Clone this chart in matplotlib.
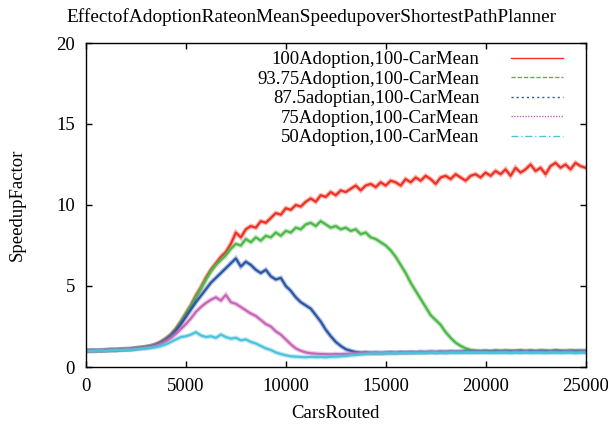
import numpy as np
import matplotlib
matplotlib.use('Agg')
import matplotlib.pyplot as plt
from matplotlib.lines import Line2D

plt.rcParams['font.family'] = 'Liberation Serif'
plt.rcParams['font.size'] = 13.5

# x grid: cars routed, one reading every 250 cars
cars = np.arange(0, 25001, 250)

# speedup (10 values per 2500 cars)
red_100 = [
    1.00, 1.02, 0.99, 1.04, 1.03, 1.07, 1.05, 1.09, 1.11, 1.10,
    1.17, 1.19, 1.24, 1.30, 1.38, 1.55, 1.75, 2.00, 2.35, 2.80,
    3.30, 3.80, 4.40, 4.90, 5.50, 6.00, 6.40, 6.80, 7.10, 7.60,
    8.30, 8.00, 8.50, 8.70, 8.60, 9.00, 8.90, 9.20, 9.50, 9.40,
    9.80, 9.70, 10.0, 9.90, 10.2, 10.4, 10.2, 10.6, 10.5, 10.8,
    10.6, 10.9, 10.8, 11.0, 11.2, 10.9, 11.2, 11.3, 11.1, 11.4,
    11.2, 11.5, 11.4, 11.2, 11.6, 11.4, 11.7, 11.5, 11.8, 11.6,
    11.3, 11.7, 11.8, 11.6, 11.9, 11.7, 11.5, 11.8, 11.9, 11.7,
    12.0, 11.8, 12.1, 11.9, 12.2, 11.8, 12.3, 12.0, 12.2, 12.5,
    12.1, 12.3, 11.9, 12.4, 12.6, 12.3, 12.5, 12.2, 12.6, 12.4,
    12.3,
]
green_9375 = [
    1.01, 0.99, 1.03, 1.02, 1.05, 1.04, 1.08, 1.07, 1.10, 1.12,
    1.15, 1.20, 1.23, 1.29, 1.40, 1.52, 1.72, 1.98, 2.30, 2.75,
    3.25, 3.75, 4.30, 4.85, 5.40, 5.90, 6.30, 6.60, 6.90, 7.30,
    7.60, 7.50, 7.90, 7.70, 8.00, 7.80, 8.10, 8.00, 8.30, 8.10,
    8.40, 8.30, 8.60, 8.50, 8.80, 8.90, 8.70, 9.00, 8.80, 8.60,
    8.70, 8.50, 8.60, 8.40, 8.50, 8.20, 8.30, 8.00, 7.90, 7.70,
    7.50, 7.20, 6.80, 6.30, 5.80, 5.20, 4.70, 4.20, 3.70, 3.20,
    2.90, 2.60, 2.15, 1.80, 1.50, 1.30, 1.15, 1.05, 1.00, 0.98,
    1.00, 0.97, 1.01, 0.99, 1.02, 0.98, 1.00, 1.03, 0.99, 1.01,
    0.98, 1.02, 1.00, 0.99, 1.03, 1.00, 0.98, 1.02, 1.01, 1.00,
    1.00,
]
blue_875 = [
    1.00, 1.01, 1.02, 1.00, 1.04, 1.06, 1.05, 1.08, 1.09, 1.11,
    1.14, 1.18, 1.22, 1.27, 1.36, 1.50, 1.68, 1.92, 2.25, 2.65,
    3.10, 3.55, 4.00, 4.40, 4.80, 5.20, 5.50, 5.80, 6.10, 6.40,
    6.70, 6.20, 6.50, 6.30, 6.00, 5.80, 6.00, 5.60, 5.40, 5.50,
    5.00, 4.70, 4.30, 4.00, 3.80, 3.60, 3.20, 2.80, 2.30, 1.90,
    1.55, 1.30, 1.10, 1.00, 0.92, 0.88, 0.90, 0.87, 0.89, 0.86,
    0.88, 0.90, 0.87, 0.91, 0.89, 0.92, 0.90, 0.93, 0.91, 0.94,
    0.92, 0.95, 0.93, 0.96, 0.94, 0.95, 0.97, 0.94, 0.96, 0.95,
    0.97, 0.95, 0.98, 0.96, 0.95, 0.98, 0.96, 0.97, 0.95, 0.98,
    0.96, 0.98, 0.97, 0.95, 0.99, 0.96, 0.98, 0.97, 0.96, 0.98,
    0.97,
]
magenta_75 = [
    0.99, 1.01, 1.00, 1.03, 1.02, 1.05, 1.04, 1.07, 1.08, 1.10,
    1.12, 1.16, 1.20, 1.24, 1.32, 1.44, 1.60, 1.80, 2.05, 2.35,
    2.65, 3.00, 3.40, 3.70, 3.95, 4.15, 4.30, 4.10, 4.45, 4.00,
    3.90, 3.70, 3.50, 3.30, 3.15, 2.90, 2.65, 2.50, 2.20, 2.00,
    1.70, 1.40, 1.15, 1.00, 0.90, 0.85, 0.82, 0.80, 0.79, 0.78,
    0.80, 0.79, 0.81, 0.82, 0.84, 0.83, 0.85, 0.86, 0.84, 0.87,
    0.86, 0.88, 0.87, 0.89, 0.88, 0.90, 0.89, 0.91, 0.90, 0.92,
    0.91, 0.90, 0.92, 0.91, 0.93, 0.92, 0.91, 0.93, 0.92, 0.94,
    0.92, 0.93, 0.91, 0.94, 0.92, 0.93, 0.95, 0.92, 0.94, 0.93,
    0.92, 0.94, 0.93, 0.91, 0.94, 0.92, 0.93, 0.95, 0.92, 0.93,
    0.94,
]
cyan_50 = [
    1.00, 0.98, 1.02, 1.01, 0.99, 1.03, 1.05, 1.04, 1.07, 1.06,
    1.10, 1.12, 1.15, 1.18, 1.22, 1.30, 1.40, 1.55, 1.70, 1.85,
    1.90, 2.00, 2.15, 1.95, 1.85, 1.90, 1.80, 2.00, 1.85, 1.75,
    1.80, 1.65, 1.70, 1.55, 1.45, 1.30, 1.15, 1.05, 0.90, 0.80,
    0.72, 0.66, 0.64, 0.62, 0.60, 0.63, 0.61, 0.62, 0.60, 0.63,
    0.64, 0.66, 0.68, 0.72, 0.74, 0.78, 0.80, 0.82, 0.84, 0.83,
    0.85, 0.84, 0.86, 0.85, 0.87, 0.86, 0.88, 0.86, 0.87, 0.89,
    0.87, 0.88, 0.86, 0.89, 0.87, 0.88, 0.90, 0.87, 0.89, 0.88,
    0.90, 0.87, 0.89, 0.88, 0.90, 0.86, 0.89, 0.88, 0.90, 0.87,
    0.89, 0.88, 0.86, 0.90, 0.88, 0.87, 0.89, 0.88, 0.86, 0.89,
    0.88,
]

labels = [
    '100Adoption,100-CarMean',
    '93.75Adoption,100-CarMean',
    '87.5adoptian,100-CarMean',
    '75Adoption,100-CarMean',
    '50Adoption,100-CarMean',
]
series = [red_100, green_9375, blue_875, magenta_75, cyan_50]
colors = ['#ee3124', '#4db848', '#2a56a6', '#c766b5', '#4dc3db']
dashes = [None, (3, 1.5), (1.5, 2.2), (1, 1), (5, 2, 1, 2)]

fig = plt.figure(figsize=(6.08, 4.28), dpi=100)
ax = fig.add_axes([86 / 608, 1 - 367 / 428, 499.5 / 608, 324 / 428])

# soft halo + core line to mimic the dense noisy bands
for vals, c in zip(series, colors):
    ax.plot(cars, vals, color=c, lw=3.4, alpha=0.35, solid_joinstyle='miter')
    ax.plot(cars, vals, color=c, lw=1.6)

handles = []
for c, d in zip(colors, dashes):
    h = Line2D([], [], color=c, lw=1.0)
    if d is not None:
        h.set_dashes(d)
    handles.append(h)
ax.legend(handles, labels, loc='upper right', bbox_to_anchor=(0.955, 0.975),
          markerfirst=False, frameon=False, fontsize=13.5, handlelength=2.8,
          handletextpad=1.65, labelspacing=0.13, borderpad=0, borderaxespad=0)

ax.set_xlim(0, 25000)
ax.set_ylim(0, 20)
ax.set_xticks(range(0, 25001, 5000))
ax.set_yticks(range(0, 21, 5))
ax.tick_params(direction='in', top=True, right=True, length=4, width=1, pad=8)
for s in ax.spines.values():
    s.set_linewidth(1.0)

fig.text(311 / 608, 1 - 17 / 428,
         'EffectofAdoptionRateonMeanSpeedupoverShortestPathPlanner',
         ha='center', va='center', fontsize=13.9)
ax.set_xlabel('CarsRouted', labelpad=7)
ax.set_ylabel('SpeedupFactor')
ax.yaxis.set_label_coords(-0.12, 0.5)

fig.savefig('out.png', dpi=100)
